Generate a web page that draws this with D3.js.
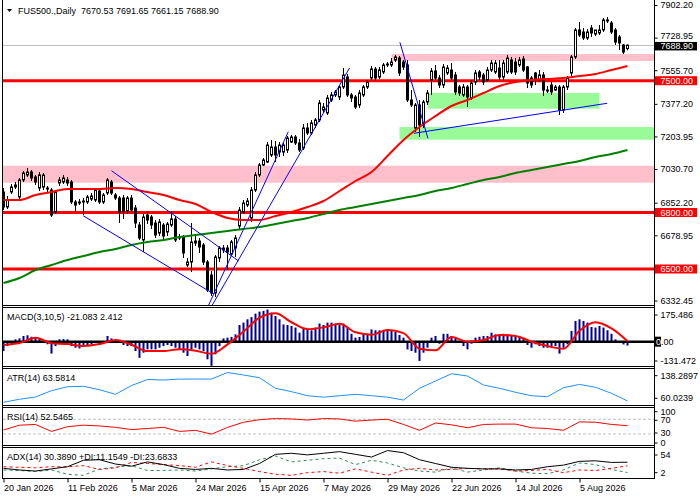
<!DOCTYPE html>
<meta charset="utf-8">
<script src="https://d3js.org/d3.v7.min.js"></script>
<style>
  body { margin: 0; background: #fff; }
  text { font-family: "Liberation Sans", Arial, sans-serif; font-size: 9px; }
</style>
<div id="chart"></div>
<script>

  // ---- price bars (daily) ----
  const opens = [6908.9,6829.2,6908.9,6935.4,6882.3,6972.6,6999.2,7015.1,6988.6,6930.1,
    6935.4,6930.1,6919.5,6802.7,6956.7,6962.0,6972.6,6962.0,6855.8,6850.5,
    6861.1,6855.8,6871.7,6866.4,6914.2,6855.8,6903.6,6962.0,6893.0,6877.0,
    6877.0,6808.0,6877.0,6823.9,6733.6,6654.0,6786.7,6776.1,6744.3,6691.1,
    6733.6,6696.5,6733.6,6765.5,6664.6,6669.9,6521.2,6537.1,6638.0,6648.6,
    6627.4,6537.1,6468.1,6372.5,6558.4,6600.9,6611.5,6579.6,6611.5,6728.3,
    6802.7,6839.8,6770.8,6919.5,6999.2,7052.3,7068.2,7105.4,7147.9,7121.3,
    7121.3,7132.0,7174.4,7201.0,7169.1,7142.6,7248.8,7222.2,7264.7,7291.3,
    7344.4,7328.5,7397.5,7424.1,7413.4,7466.5,7519.7,7424.1,7413.4,7370.9,
    7424.1,7466.5,7514.3,7562.1,7519.7,7546.2,7583.4,7583.4,7609.9,7620.6,
    7599.3,7583.4,7397.5,7248.8,7370.9,7264.7,7386.9,7503.7,7551.5,7514.3,
    7477.2,7540.9,7556.8,7530.3,7466.5,7424.1,7466.5,7408.1,7493.1,7546.2,
    7530.3,7503.7,7556.8,7546.2,7567.5,7519.7,7546.2,7609.9,7599.3,7583.4,
    7615.3,7572.8,7514.3,7540.9,7503.7,7530.3,7450.6,7477.2,7450.6,7466.5,
    7344.4,7466.5,7540.9,7625.9,7769.3,7758.7,7726.8,7779.9,7748.0,7753.3,
    7769.3,7817.1,7806.4,7769.3,7732.1,7689.6,7670.53];
  const highs = [6930.1,6887.6,6951.4,6962.0,6983.2,7020.4,7036.4,7025.7,6999.2,7015.1,
    7009.8,6940.8,6930.1,6919.5,6988.6,6999.2,6988.6,6972.6,6866.4,6871.7,
    6877.0,6893.0,6903.6,6930.1,6924.8,6903.6,6983.2,6972.6,6903.6,6887.6,
    6893.0,6887.6,6893.0,6839.8,6749.6,6792.1,6802.7,6786.7,6760.2,6765.5,
    6744.3,6749.6,6808.0,6781.4,6685.8,6680.5,6558.4,6744.3,6675.2,6664.6,
    6638.0,6547.7,6489.3,6574.3,6622.1,6627.4,6627.4,6654.0,6680.5,6829.2,
    6866.4,6877.0,6935.4,7015.1,7062.9,7089.5,7174.4,7185.1,7179.8,7174.4,
    7169.1,7206.3,7211.6,7211.6,7190.4,7270.0,7275.4,7291.3,7301.9,7397.5,
    7381.6,7424.1,7440.0,7450.6,7477.2,7567.5,7535.6,7434.7,7424.1,7450.6,
    7477.2,7503.7,7578.1,7572.8,7572.8,7594.0,7599.3,7620.6,7636.5,7631.2,
    7609.9,7609.9,7450.6,7381.6,7397.5,7397.5,7450.6,7567.5,7583.4,7530.3,
    7588.7,7583.4,7594.0,7546.2,7477.2,7482.5,7477.2,7503.7,7556.8,7556.8,
    7540.9,7572.8,7609.9,7609.9,7609.9,7609.9,7636.5,7625.9,7620.6,7625.9,
    7631.2,7578.1,7525.0,7546.2,7556.8,7546.2,7471.9,7493.1,7477.2,7477.2,
    7477.2,7525.0,7636.5,7779.9,7811.8,7779.9,7774.6,7795.8,7764.0,7795.8,
    7833.0,7838.3,7817.1,7779.9,7742.7,7694.9,7691.65];
  const lows = [6813.3,6818.6,6898.3,6924.8,6871.7,6962.0,6988.6,6967.3,6946.1,6914.2,
    6919.5,6908.9,6776.1,6792.1,6940.8,6951.4,6940.8,6845.2,6802.7,6839.8,
    6786.7,6845.2,6861.1,6855.8,6845.2,6845.2,6893.0,6893.0,6866.4,6744.3,
    6765.5,6792.1,6802.7,6717.7,6654.0,6590.2,6738.9,6712.4,6664.6,6675.2,
    6654.0,6675.2,6723.0,6643.3,6654.0,6558.4,6510.6,6484.0,6622.1,6584.9,
    6521.2,6377.8,6356.5,6351.2,6537.1,6584.9,6494.6,6569.0,6563.7,6707.1,
    6792.1,6829.2,6749.6,6908.9,6988.6,7047.0,7062.9,7094.8,7068.2,7094.8,
    7100.1,7116.0,7169.1,7158.5,7121.3,7132.0,7211.6,7211.6,7248.8,7280.7,
    7328.5,7317.8,7386.9,7413.4,7397.5,7455.9,7413.4,7386.9,7349.7,7355.0,
    7413.4,7455.9,7503.7,7498.4,7509.0,7535.6,7572.8,7572.8,7599.3,7525.0,
    7556.8,7386.9,7360.3,7227.6,7201.0,7248.8,7370.9,7424.1,7503.7,7461.2,
    7461.2,7530.3,7503.7,7424.1,7418.7,7413.4,7360.3,7397.5,7477.2,7503.7,
    7477.2,7493.1,7546.2,7535.6,7503.7,7503.7,7535.6,7535.6,7530.3,7572.8,
    7546.2,7461.2,7461.2,7477.2,7493.1,7418.7,7434.7,7424.1,7445.3,7317.8,
    7328.5,7450.6,7525.0,7615.3,7732.1,7716.2,7716.2,7732.1,7737.4,7742.7,
    7758.7,7806.4,7748.0,7689.6,7663.1,7641.8,7661.15];
  const closes = [6829.2,6866.4,6935.4,6946.1,6972.6,7009.8,7015.1,6983.2,6962.0,6999.2,
    6999.2,6924.8,6786.7,6908.9,6972.6,6983.2,6956.7,6855.8,6839.8,6855.8,
    6855.8,6882.3,6887.6,6919.5,6855.8,6893.0,6972.6,6903.6,6877.0,6802.7,
    6808.0,6877.0,6813.3,6744.3,6664.6,6776.1,6760.2,6733.6,6680.5,6749.6,
    6675.2,6738.9,6765.5,6654.0,6669.9,6584.9,6537.1,6643.3,6648.6,6616.8,
    6537.1,6388.4,6372.5,6563.7,6611.5,6611.5,6590.2,6643.3,6664.6,6813.3,
    6850.5,6861.1,6919.5,6999.2,7052.3,7078.8,7158.5,7147.9,7105.4,7158.5,
    7158.5,7195.7,7201.0,7169.1,7132.0,7248.8,7222.2,7275.4,7291.3,7381.6,
    7360.3,7408.1,7424.1,7440.0,7466.5,7530.3,7424.1,7408.1,7360.3,7434.7,
    7466.5,7493.1,7562.1,7514.3,7556.8,7583.4,7588.7,7599.3,7625.9,7540.9,
    7572.8,7397.5,7370.9,7370.9,7264.7,7386.9,7434.7,7551.5,7514.3,7477.2,
    7572.8,7567.5,7514.3,7440.0,7434.7,7466.5,7413.4,7487.8,7540.9,7519.7,
    7493.1,7556.8,7594.0,7594.0,7519.7,7594.0,7620.6,7546.2,7546.2,7609.9,
    7556.8,7487.8,7477.2,7503.7,7530.3,7450.6,7445.3,7440.0,7466.5,7344.4,
    7466.5,7514.3,7625.9,7769.3,7742.7,7726.8,7758.7,7753.3,7769.3,7769.3,
    7822.4,7822.4,7758.7,7705.5,7700.2,7652.4,7688.90];

  // ---- indicator lines, one value every 4 bars ----
  const lineStep = 4;
  const maFast = [6866.4,6866.4,6893.0,6908.9,6924.8,6924.8,6924.8,6930.1,6924.8,6908.9,
    6893.0,6866.4,6845.2,6802.7,6770.8,6760.2,6760.2,6781.4,6802.7,6829.2,
    6861.1,6914.2,6967.3,7015.1,7100.1,7185.1,7254.1,7312.5,7365.6,7397.5,
    7434.7,7471.9,7493.1,7503.7,7509.0,7514.3,7525.0,7535.6,7556.8,7578.1];
  const maSlow = [6425.6,6452.1,6494.6,6521.2,6547.7,6569.0,6590.2,6606.2,6627.4,6643.3,
    6654.0,6669.9,6680.5,6691.1,6701.8,6712.4,6723.0,6738.9,6754.9,6770.8,
    6792.1,6813.3,6829.2,6845.2,6861.1,6877.0,6893.0,6914.2,6930.1,6951.4,
    6972.6,6988.6,7009.8,7025.7,7041.7,7057.6,7073.5,7094.8,7110.7,7131.9];
  const macdSignal = [-18,-7,21,-8,-13,-23,-13,9,-17,-51,
    -51,-41,-49,-66,-15,55,131,155,106,68,
    78,98,51,38,64,47,-38,-47,26,0,
    9,37,31,0,-24,-38,60,106,72,2.412];
  const atrLine = [60.0,68,74,90.5,101,102,93,81,104,120,
    118.6,121,121,121,138.3,131.7,124.5,96.8,88,77.3,
    73.5,77.3,81,77.3,73.5,66,96.8,116,135,129,
    105.5,96.8,86.3,77.3,74.7,98.5,107,99.5,83.6,63.5814];
  const rsiLine = [40.8,54,56,37,50,54,52,48,42,45,
    48,37,40,29.5,48,62,69,72,71,68,
    72,71,65,68,70,56,40,60,55,47,
    56,57,57,47,45,40,63,62,56,52.5465];
  const adxLine = [19,16,14,18,22,34,35,27,23,31,
    26,19,17,19,16,17,28,45,47,44,
    47,50,45,40,52,48,35,28,21,19,
    18,18,16,17,22,25,32,33,30,30.389];
  const plusDi = [16,15,13,16,8,6,18,21,24,15,
    15,16,14,18,22,24,35,42,31,34,
    37,38,26,34,29,20,14,12,20,12,
    16,20,14,10,9,16,29,26,17,11.1549];
  const minusDi = [22,21,20,22,22,24,17,20,30,28,
    26,24,21,31,24,19,13,8,6,11,
    13,10,18,12,6,16,19,16,17,19,
    18,18,14,15,17,11,16,15,19,23.6833];

  // MACD histogram, one value per bar
  const macdHist = [-51,-24,-14,13,18,31,35,27,22,16,
    -5,-14,-65,-24,13,14,13,-24,-33,-37,
    -29,-24,-14,-5,-14,-5,31,18,-5,-5,
    -18,-24,-24,-51,-88,-60,-42,-42,-42,-33,
    -24,-18,-24,-33,-42,-60,-78,-42,-33,-42,
    -51,-96,-131.47,-69,-24,18,22,26,40,91,
    104,122,134,153,164,168,175.49,158,140,122,
    94,91,86,77,49,73,67,62,77,99,
    91,104,104,91,94,99,77,43,22,26,
    40,43,67,62,62,62,62,62,54,37,
    22,-42,-51,-60,-105,-60,-33,22,31,-11,
    43,43,31,22,-5,-24,-42,-11,22,27,
    31,31,49,40,37,43,40,31,31,31,
    22,-18,-33,-14,-24,-33,-33,-33,-24,-65,
    -33,-14,59,113,122,113,104,80,77,86,
    77,62,43,13,2,-15,-21.083];

  // ---- chart objects ----
  const levels = [7500, 6800, 6500];
  const zones = [
    { from: 97, to: 165, lo: 7604.6, hi: 7641.8, kind: "res" },
    { from: -1, to: 165, lo: 6958.3, hi: 7048.6, kind: "res" },
    { from: 106.1, to: 149, lo: 7351.3, hi: 7434.5, kind: "sup" },
    { from: 99, to: 165, lo: 7186.7, hi: 7254.0, kind: "sup" }
  ];
  // [bar1, price1, bar2, price2]
  const trendLines = [
    [27, 7022.0, 58.8, 6542.4],
    [19.9, 6783.0, 52.6, 6367.2],
    [51.3, 6308.7, 71.2, 7229.1],
    [52.2, 6308.7, 86.5, 7567.5],
    [99.1, 7703.9, 106.1, 7194.1],
    [102.6, 7220.6, 150.9, 7380.0]
  ];

  const priceTicks = [7902.20, 7728.95, 7555.70, 7377.20, 7203.95, 7030.70, 6852.20, 6678.95, 6332.45];
  const dateLabels = ["20 Jan 2026", "11 Feb 2026", "5 Mar 2026", "24 Mar 2026", "15 Apr 2026",
    "7 May 2026", "29 May 2026", "22 Jun 2026", "14 Jul 2026", "5 Aug 2026"];
  const dateIdx = [0, 16, 32, 48, 64, 80, 96, 112, 128, 144];

  // ---- layout ----
  var width = 700, height = 500;
  var axisX = 654.5, leftX = 2.5;
  var pMain = [0, 305.5], pMacd = [307.5, 366.5], pAtr = [368.5, 405.5],
    pRsi = [407.5, 445], pAdx = [447.5, 478.5];

  var svg = d3.select("#chart").append("svg")
    .attr("width", width).attr("height", height);

  var x = d3.scaleLinear().domain([0, 156]).range([3.5, 627.5]);
  var yMain = d3.scaleLinear().domain([6500, 7500]).range([269, 80.7]);
  var yMacd = d3.scaleLinear().domain([-131.472, 175.486]).range([365.8, 309.5]);
  var yAtr = d3.scaleLinear().domain([60.0239, 138.2897]).range([402.3, 372.5]);
  var yRsi = d3.scaleLinear().domain([0, 100]).range([445, 408.3]);
  var yAdx = d3.scaleLinear().domain([2, 54]).range([477.5, 449.5]);

  function clipFor(id, p) {
    svg.append("clipPath").attr("id", id).append("rect")
      .attr("x", 3).attr("y", p[0]).attr("width", axisX - 3).attr("height", p[1] - p[0]);
    return svg.append("g").attr("clip-path", "url(#" + id + ")");
  }
  function sampled(arr) { return arr.map(function (v, k) { return [k * lineStep, v]; }); }
  function pathOf(ys) {
    return d3.line().x(function (d) { return x(d[0]); }).y(function (d) { return ys(d[1]); });
  }

  // ---- main panel ----
  var gm = clipFor("clipMain", pMain);

  gm.selectAll("rect.zone").data(zones).join("rect")
    .attr("x", function (d) { return x(d.from); })
    .attr("width", function (d) { return x(d.to) - x(d.from); })
    .attr("y", function (d) { return yMain(d.hi); })
    .attr("height", function (d) { return yMain(d.lo) - yMain(d.hi); })
    .attr("fill", function (d) { return d.kind === "res" ? "#ffc0cb" : "#98fb98"; });

  var lastClose = closes[closes.length - 1];
  gm.append("line")
    .attr("x1", 3).attr("x2", axisX)
    .attr("y1", Math.round(yMain(lastClose)) + 0.5).attr("y2", Math.round(yMain(lastClose)) + 0.5)
    .attr("stroke", "#c0c0c0").attr("stroke-width", 1);

  gm.selectAll("line.level").data(levels).join("line")
    .attr("x1", 3).attr("x2", axisX)
    .attr("y1", function (d) { return yMain(d); }).attr("y2", function (d) { return yMain(d); })
    .attr("stroke", "#ff0000").attr("stroke-width", 3);

  var bars = d3.range(closes.length).map(function (i) {
    return { i: i, o: opens[i], h: highs[i], l: lows[i], c: closes[i] };
  });
  gm.selectAll("line.wick").data(bars).join("line")
    .attr("x1", function (d) { return x(d.i); }).attr("x2", function (d) { return x(d.i); })
    .attr("y1", function (d) { return yMain(d.h); }).attr("y2", function (d) { return yMain(d.l); })
    .attr("stroke", "#000").attr("stroke-width", 1);
  gm.selectAll("rect.body").data(bars).join("rect")
    .attr("x", function (d) { return x(d.i) - 1; })
    .attr("width", 2)
    .attr("y", function (d) { return yMain(Math.max(d.o, d.c)); })
    .attr("height", function (d) { return Math.max(0.5, Math.abs(yMain(d.o) - yMain(d.c))); })
    .attr("fill", function (d) { return d.c >= d.o ? "#fff" : "#000"; })
    .attr("stroke", "#000").attr("stroke-width", 1);

  gm.append("path").datum(sampled(maSlow))
    .attr("fill", "none").attr("stroke", "#008000").attr("stroke-width", 2)
    .attr("d", pathOf(yMain).curve(d3.curveMonotoneX));
  gm.append("path").datum(sampled(maFast))
    .attr("fill", "none").attr("stroke", "#ff0000").attr("stroke-width", 2)
    .attr("d", pathOf(yMain).curve(d3.curveMonotoneX));

  gm.selectAll("line.trend").data(trendLines).join("line")
    .attr("x1", function (d) { return x(d[0]); }).attr("y1", function (d) { return yMain(d[1]); })
    .attr("x2", function (d) { return x(d[2]); }).attr("y2", function (d) { return yMain(d[3]); })
    .attr("stroke", "#0000ff").attr("stroke-width", 1);

  // ---- MACD ----
  var gd = clipFor("clipMacd", pMacd);
  gd.selectAll("rect.hist").data(macdHist).join("rect")
    .attr("x", function (d, i) { return x(i) - 1; })
    .attr("width", 2)
    .attr("y", function (d) { return Math.min(yMacd(d), yMacd(0)); })
    .attr("height", function (d) { return Math.abs(yMacd(d) - yMacd(0)); })
    .attr("fill", "#00008b");
  gd.append("line").attr("x1", 3).attr("x2", axisX)
    .attr("y1", yMacd(0)).attr("y2", yMacd(0))
    .attr("stroke", "#000").attr("stroke-width", 2.5);
  gd.append("path").datum(sampled(macdSignal))
    .attr("fill", "none").attr("stroke", "#ff0000").attr("stroke-width", 2)
    .attr("d", pathOf(yMacd).curve(d3.curveMonotoneX));

  // ---- ATR ----
  var ga = clipFor("clipAtr", pAtr);
  ga.append("path").datum(sampled(atrLine))
    .attr("fill", "none").attr("stroke", "#1e90ff").attr("stroke-width", 1)
    .attr("d", pathOf(yAtr));

  // ---- RSI ----
  var gr = clipFor("clipRsi", pRsi);
  gr.selectAll("line.lvl").data([70, 30]).join("line")
    .attr("x1", 3).attr("x2", axisX)
    .attr("y1", function (d) { return yRsi(d); }).attr("y2", function (d) { return yRsi(d); })
    .attr("stroke", "#c0c0c0").attr("stroke-dasharray", "3,2");
  gr.append("path").datum(sampled(rsiLine))
    .attr("fill", "none").attr("stroke", "#ff0000").attr("stroke-width", 1)
    .attr("d", pathOf(yRsi));

  // ---- ADX ----
  var gx = clipFor("clipAdx", pAdx);
  gx.append("path").datum(sampled(plusDi))
    .attr("fill", "none").attr("stroke", "#2e8b57").attr("stroke-dasharray", "3,3")
    .attr("d", pathOf(yAdx));
  gx.append("path").datum(sampled(minusDi))
    .attr("fill", "none").attr("stroke", "#ff0000").attr("stroke-dasharray", "3,3")
    .attr("d", pathOf(yAdx));
  gx.append("path").datum(sampled(adxLine))
    .attr("fill", "none").attr("stroke", "#000").attr("stroke-width", 1)
    .attr("d", pathOf(yAdx));

  // ---- frames ----
  var frame = svg.append("g").attr("stroke", "#000").attr("stroke-width", 1)
    .attr("shape-rendering", "crispEdges");
  frame.append("line").attr("x1", leftX).attr("x2", leftX).attr("y1", 0).attr("y2", pAdx[1]);
  frame.append("line").attr("x1", axisX).attr("x2", axisX).attr("y1", 0).attr("y2", pAdx[1]);
  [pMain[1], pMacd[0], pMacd[1], pAtr[0], pAtr[1], pRsi[0], pRsi[1], pAdx[0], pAdx[1]]
    .forEach(function (yy) {
      frame.append("line").attr("x1", leftX).attr("x2", axisX).attr("y1", yy).attr("y2", yy);
    });

  // ---- price axis ----
  var ax = svg.append("g").attr("transform", "translate(" + axisX + ",0)")
    .call(d3.axisRight(yMain).tickValues(priceTicks).tickSize(3).tickPadding(3)
      .tickFormat(d3.format(".2f")));
  ax.select(".domain").remove();
  ax.selectAll("text").attr("font-family", null).attr("font-size", null).attr("fill", "#000");
  // the tick just above the last-price tag sits a touch higher so the two don't collide
  ax.selectAll("text").filter(function (d) { return d === 7728.95; }).attr("y", -2);

  // level and last-price tags
  var tags = svg.append("g");
  levels.forEach(function (v) {
    tags.append("rect").attr("x", 655).attr("y", yMain(v) - 4.5).attr("width", 42).attr("height", 9)
      .attr("fill", "#ff0000");
    tags.append("text").attr("x", 660.5).attr("y", yMain(v)).attr("dy", "0.35em")
      .attr("fill", "#fff").text(d3.format(".2f")(v));
  });
  tags.append("rect").attr("x", 655).attr("y", yMain(lastClose) - 3.2).attr("width", 42).attr("height", 8.5)
    .attr("fill", "#000");
  tags.append("text").attr("x", 660.5).attr("y", yMain(lastClose) + 1.2).attr("dy", "0.35em")
    .attr("fill", "#fff").text(d3.format(".2f")(lastClose));

  // ---- indicator scales ----
  var sub = [
    { t: "175.486", y: yMacd(175.486) + 5.5 },
    { t: "-131.472", y: yMacd(-131.472) - 4.8 },
    { t: "138.2897", y: yAtr(138.2897) + 3.2 },
    { t: "60.0239", y: yAtr(60.0239) - 4 },
    { t: "100", y: yRsi(100) + 3.4 },
    { t: "70", y: yRsi(70) + 1 },
    { t: "30", y: yRsi(30) - 1 },
    { t: "0", y: yRsi(0) - 2 },
    { t: "54", y: yAdx(54) + 5.5 },
    { t: "2", y: yAdx(2) - 4.8 }
  ];
  svg.selectAll("text.sub").data(sub).join("text")
    .attr("x", 660.5).attr("y", function (d) { return d.y; }).attr("dy", "0.35em")
    .text(function (d) { return d.t; });
  svg.selectAll("line.subtick").data(sub).join("line")
    .attr("x1", axisX).attr("x2", axisX + 3)
    .attr("y1", function (d) { return d.y; }).attr("y2", function (d) { return d.y; })
    .attr("stroke", "#000");
  svg.append("rect").attr("x", 655).attr("y", yMacd(0) - 5).attr("width", 6).attr("height", 10)
    .attr("fill", "#000");
  var zt = svg.append("text").attr("x", 656).attr("y", yMacd(0)).attr("dy", "0.35em");
  zt.append("tspan").attr("fill", "#fff").text("0");
  zt.append("tspan").attr("fill", "#000").text(".00");

  // ---- time axis ----
  var bx = svg.append("g").attr("transform", "translate(0," + pAdx[1] + ")")
    .call(d3.axisBottom(x).tickValues(dateIdx).tickSize(4).tickPadding(2)
      .tickFormat(function (d, k) { return dateLabels[k]; }));
  bx.select(".domain").remove();
  bx.selectAll("text").attr("font-family", null).attr("font-size", null)
    .attr("fill", "#000").attr("text-anchor", "start");

  // ---- captions ----
  svg.append("path").attr("d", "M7,9 L12,9 L9.5,12 Z").attr("fill", "#000");
  svg.append("text").attr("x", 18).attr("y", 10.5).attr("dy", "0.35em")
    .style("white-space", "pre")
    .text("FUS500.,Daily  7670.53 7691.65 7661.15 7688.90");
  var caps = [
    { t: "MACD(3,10,5) -21.083 2.412", y: 316.7 },
    { t: "ATR(14) 63.5814", y: 377.7 },
    { t: "RSI(14) 52.5465", y: 416.7 },
    { t: "ADX(14) 30.3890 +DI:11.1549 -DI:23.6833", y: 456.7 }
  ];
  svg.selectAll("text.cap").data(caps).join("text")
    .attr("x", 7).attr("y", function (d) { return d.y; }).attr("dy", "0.35em")
    .text(function (d) { return d.t; });

</script>
